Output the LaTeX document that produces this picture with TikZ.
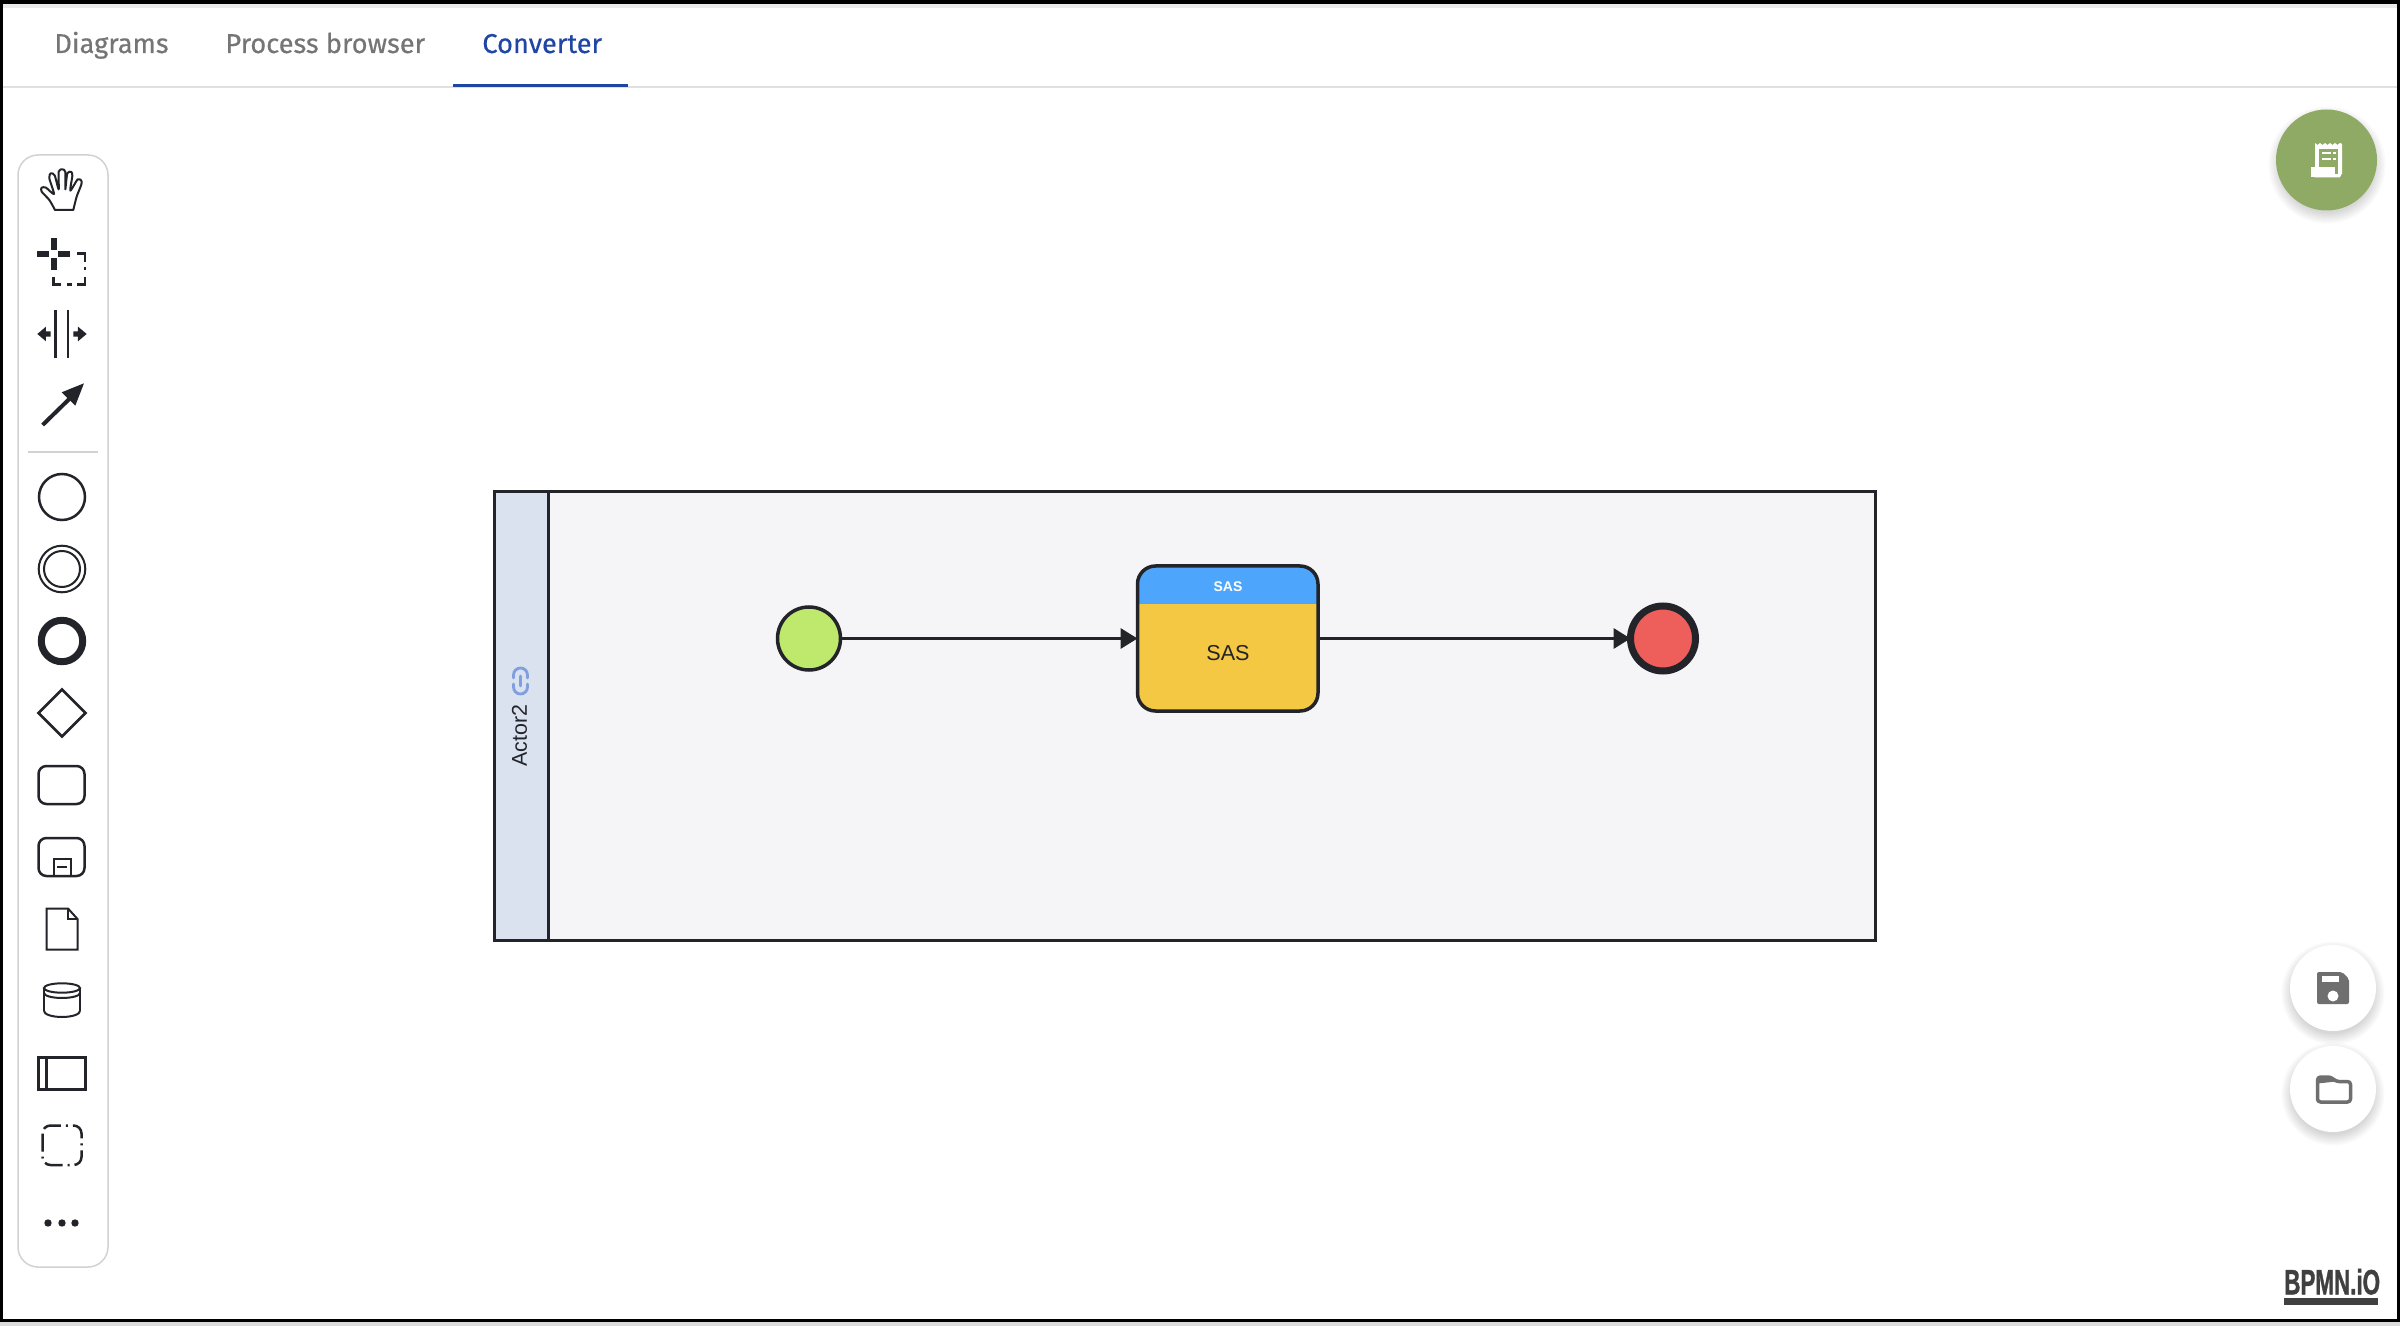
\documentclass[tikz,border=0pt]{standalone}
\usepackage{fontspec}
\usetikzlibrary{arrows.meta,calc}
\setmainfont{Liberation Sans}
\newfontfamily\tabfont[FakeBold=0.45]{Fira Sans}
\newfontfamily\logofont[BoldFeatures={FakeBold=1.5}]{Liberation Sans}
\definecolor{ink}{HTML}{22242A}
\definecolor{tabgrey}{HTML}{757575}
\definecolor{tabblue}{HTML}{1F45A5}
\definecolor{panelline}{HTML}{D2D2D2}
\definecolor{poolfill}{HTML}{F5F5F8}
\definecolor{lanefill}{HTML}{DAE1EF}
\definecolor{linkblue}{HTML}{7F9FDE}
\definecolor{startgreen}{HTML}{BEE96C}
\definecolor{taskblue}{HTML}{4DA6FB}
\definecolor{taskyellow}{HTML}{F4C842}
\definecolor{endred}{HTML}{EE5F5B}
\definecolor{fabgreen}{HTML}{8EAA65}
\definecolor{fabgrey}{HTML}{6F6F6F}
\definecolor{logogrey}{HTML}{404040}
\tikzset{
  tablabel/.style={inner sep=0pt,anchor=base west,font=\tabfont\fontsize{13.6}{15}\selectfont},
  tool/.style={draw=ink,line width=1.25pt,fill=none},
  thintool/.style={draw=ink,line width=1pt,fill=none},
  flow/.style={draw=ink,line width=1.75pt,-{Triangle[length=8.5pt,width=10pt]}},
  eventnode/.style={circle,inner sep=0pt,outer sep=0pt},
  fab/.style={circle,inner sep=0pt,outer sep=0pt,minimum size=43pt,fill=white},
}
\newcommand{\softshadow}[3]{%
  \foreach \k in {1,...,8}{
    \fill[black,opacity=0.018] (#1,#2+5) circle ({#3+10-\k*1.5});
  }
}
\begin{document}
\begin{tikzpicture}[x=0.5pt,y=-0.5pt]
\useasboundingbox (0,0) rectangle (2400,1326);
\fill[white] (0,0) rectangle (2400,1326);
% window frame
\fill[black!8] (0,4) rectangle (2397,8);
\fill[black] (0,0) rectangle (2400,4);
\fill[black] (0,0) rectangle (3,1322);
\fill[black] (2397,0) rectangle (2400,1322);
\fill[black] (0,1319) rectangle (2400,1322);
\fill[black!14] (0,1322) rectangle (2400,1326);
% tabs
\draw[black!12,line width=0.75pt] (3,87) -- (2397,87);
\node[tablabel,text=tabgrey] (tabA) at (54,53) {Diagrams};
\node[tablabel,text=tabgrey] (tabB) at (225,53) {Process browser};
\node[tablabel,text=tabblue] (tabC) at (482,53) {Converter};
\fill[tabblue] (453,84.5) rectangle (628,87.5);
% palette panel
\draw[panelline,line width=0.75pt,fill=white,rounded corners=10pt] (18,155) rectangle (108,1267);
\begin{scope}[shift={(10,150)},scale=0.3333]
% hand
\draw[ink,line width=1pt,line join=round] plot[smooth,tension=.45] coordinates {(135,180) (118,150) (95,125) (95,113) (108,113) (132,132) (118,85) (122,70) (134,76) (146,118) (146,65) (157,58) (166,66) (166,118) (172,70) (184,66) (187,78) (181,122) (203,88) (214,92) (214,104) (200,140) (190,180)} -- cycle;
% lasso
\fill[ink] (82,302) rectangle (118,320);
\fill[ink] (145,302) rectangle (180,320);
\fill[ink] (122,265) rectangle (140,300);
\fill[ink] (122,325) rectangle (140,360);
\draw[ink,line width=1.25pt] (202,311) -- (225,311) -- (225,335);
\draw[ink,line width=1.25pt] (225,350) -- (225,360);
\draw[ink,line width=1.25pt] (225,380) -- (225,403) -- (200,403);
\draw[ink,line width=1.25pt] (170,403) -- (185,403);
\draw[ink,line width=1.25pt] (152,403) -- (130,403) -- (130,380);
% space tool
\draw[ink,line width=1.25pt] (136,480) -- (136,625);
\draw[ink,line width=1.25pt] (174,480) -- (174,625);
\fill[ink] (82,552) -- (108,530) -- (108,544) -- (122,544) -- (122,560) -- (108,560) -- (108,574) -- cycle;
\fill[ink] (230,552) -- (204,530) -- (204,544) -- (190,544) -- (190,560) -- (204,560) -- (204,574) -- cycle;
% connect tool
\draw[ink,line width=2pt] (98,825) -- (180,745);
\fill[ink] (222,700) -- (196,767) -- (155,727) -- cycle;
\end{scope}
\draw[panelline,line width=0.75pt] (28,452) -- (98,452);
% events
\draw[tool] (62,497) circle (23);
\draw[thintool] (62,569) circle (23.3);
\draw[thintool] (62,569) circle (18);
\draw[ink,line width=3.5pt] (62,641) circle (20.7);
\draw[tool,line join=miter] (62,689.5) -- (85.5,713) -- (62,736.5) -- (38.5,713) -- cycle;
% task + subprocess
\draw[tool,rounded corners=4pt] (38.5,766) rectangle (84.5,804);
\draw[tool,rounded corners=4pt] (38.5,838) rectangle (84.5,876);
\draw[ink,line width=1pt] (53.5,876) -- (53.5,858.5) -- (70.5,858.5) -- (70.5,876);
\draw[ink,line width=1pt] (57,866.5) -- (67,866.5);
% document
\draw[thintool,line join=miter] (46.5,908.5) -- (68,908.5) -- (77.5,919) -- (77.5,949.5) -- (46.5,949.5) -- cycle;
\draw[thintool,line join=miter] (68,908.5) -- (68,919) -- (77.5,919);
% data store
\draw[thintool] (44,988) -- (44,1011);
\draw[thintool] (80,988) -- (80,1011);
\draw[thintool] (62,988) ellipse (18 and 4.7);
\draw[thintool] (44,993) arc[start angle=180,end angle=0,x radius=18,y radius=5];
\draw[thintool] (44,1011) arc[start angle=180,end angle=0,x radius=18,y radius=6];
% pool
\draw[tool,line join=miter] (38.5,1057.5) rectangle (85.5,1089.5);
\draw[tool] (46.5,1057.5) -- (46.5,1089.5);
% group
\draw[ink,line width=1.25pt,rounded corners=4pt,dash pattern=on 9pt off 2.5pt on 1pt off 2.5pt] (42.5,1125.5) rectangle (81.5,1165);
% more
\fill[ink] (48,1223) circle (3.7);
\fill[ink] (62,1223) circle (3.7);
\fill[ink] (75,1223) circle (3.7);

% pool diagram
\draw[ink,line width=1.5pt,fill=poolfill,line join=miter] (494,491.5) rectangle (1875.5,940);
\fill[lanefill] (494,491.5) rectangle (548,940);
\draw[ink,line width=1.5pt,line join=miter] (494,491.5) rectangle (1875.5,940);
\draw[ink,line width=1.5pt] (548,491.5) -- (548,940);
\node[inner sep=0pt,rotate=90,font=\fontsize{10.7}{12}\selectfont,text=ink] (actor) at (519.5,735.5) {Actor2};
% link icon
\begin{scope}[linkblue,line width=1.4pt,line cap=round]
\draw (513.5,678) -- (513.5,675) arc[start angle=180,end angle=360,radius=7] -- (527.5,678);
\draw (513.5,684) -- (513.5,687) arc[start angle=180,end angle=0,radius=7] -- (527.5,684);
\draw (520.5,676) -- (520.5,686);
\end{scope}

\node[eventnode,draw=ink,line width=1.75pt,fill=startgreen,minimum size=31.5pt] (start) at (809,638.5) {};
\node[draw=none,inner sep=0pt,outer sep=0pt,minimum width=90.25pt,minimum height=72.5pt] (task) at (1227.75,638.5) {};
\begin{scope}
\clip[rounded corners=9pt] (task.south west) rectangle (task.north east);
\fill[taskyellow] (task.south west) rectangle (task.north east);
\fill[taskblue] (task.north west) rectangle ($(task.north east)+(0,38)$);
\end{scope}
\draw[ink,line width=1.75pt,rounded corners=9pt] (task.south west) rectangle (task.north east);
\node[inner sep=0pt,text=white,font=\bfseries\fontsize{7}{8}\selectfont] (taskhead) at (1228,586.5) {SAS};
\node[inner sep=0pt,text=ink,font=\fontsize{10.8}{12}\selectfont] (tasklabel) at (1228,653.5) {SAS};
\node[eventnode,draw=ink,line width=3.5pt,fill=endred,minimum size=32.5pt] (end) at (1663,638.5) {};
\draw[flow] (start) -- (task.west);
\draw[flow] (task.east) -- (end);

% fabs
\softshadow{2327}{160}{50}
\node[eventnode,fill=fabgreen,minimum size=50.5pt] (fabA) at (2326.5,160) {};
\begin{scope}[shift={(2300,130)}]
\fill[white] (15,13) -- (17.5,15) -- (20,13) -- (22.5,15) -- (25,13) -- (27.5,15) -- (30,13) -- (32.5,15) -- (35,13) -- (37.5,15) -- (40,13) -- (42,14) -- (42,44) to[out=90,in=0] (39,47.5) -- (15,47.5) to[out=180,in=-90] (11,43) -- (11,38) -- (15,38) -- cycle;
\fill[fabgreen] (19,19) rectangle (38,37.5);
\fill[fabgreen] (35,37) rectangle (38,44);
\fill[white] (22,22) rectangle (31,24.5);
\fill[white] (33,22) rectangle (35.5,24.5);
\fill[white] (22,28) rectangle (31,30.5);
\fill[white] (33,28) rectangle (35.5,30.5);
\fill[white] (11,37.5) rectangle (35,47);
\end{scope}
\softshadow{2333}{988}{43}
\softshadow{2333}{1089}{43}
\node[fab] (fabB) at (2333,988) {};
\node[fab] (fabC) at (2333,1089) {};
% save icon
\fill[fabgrey,rounded corners=1pt] (2317,972) -- (2342,972) -- (2349,979) -- (2349,1004) -- (2317,1004) -- cycle;
\fill[white] (2322,976) rectangle (2339,982);
\fill[white] (2333,996) circle (5.5);
% folder icon
\draw[fabgrey,line width=1.75pt,line join=round,rounded corners=1.5pt] (2317.5,1077) -- (2331,1077) -- (2336,1081.5) -- (2350.5,1081.5) -- (2350.5,1102) -- (2317.5,1102) -- cycle;
\fill[fabgrey] (2317.5,1077) -- (2331,1077) -- (2336,1081.5) -- (2317.5,1083.5) -- cycle;
% logo
\node[inner sep=0pt,anchor=south west,text=logogrey,font=\logofont\bfseries\fontsize{17.5}{19}\selectfont,xscale=0.64] (logo) at (2284,1295) {BPMN.iO};
\fill[logogrey] (2284,1298) rectangle (2378,1305);
\end{tikzpicture}
\end{document}
